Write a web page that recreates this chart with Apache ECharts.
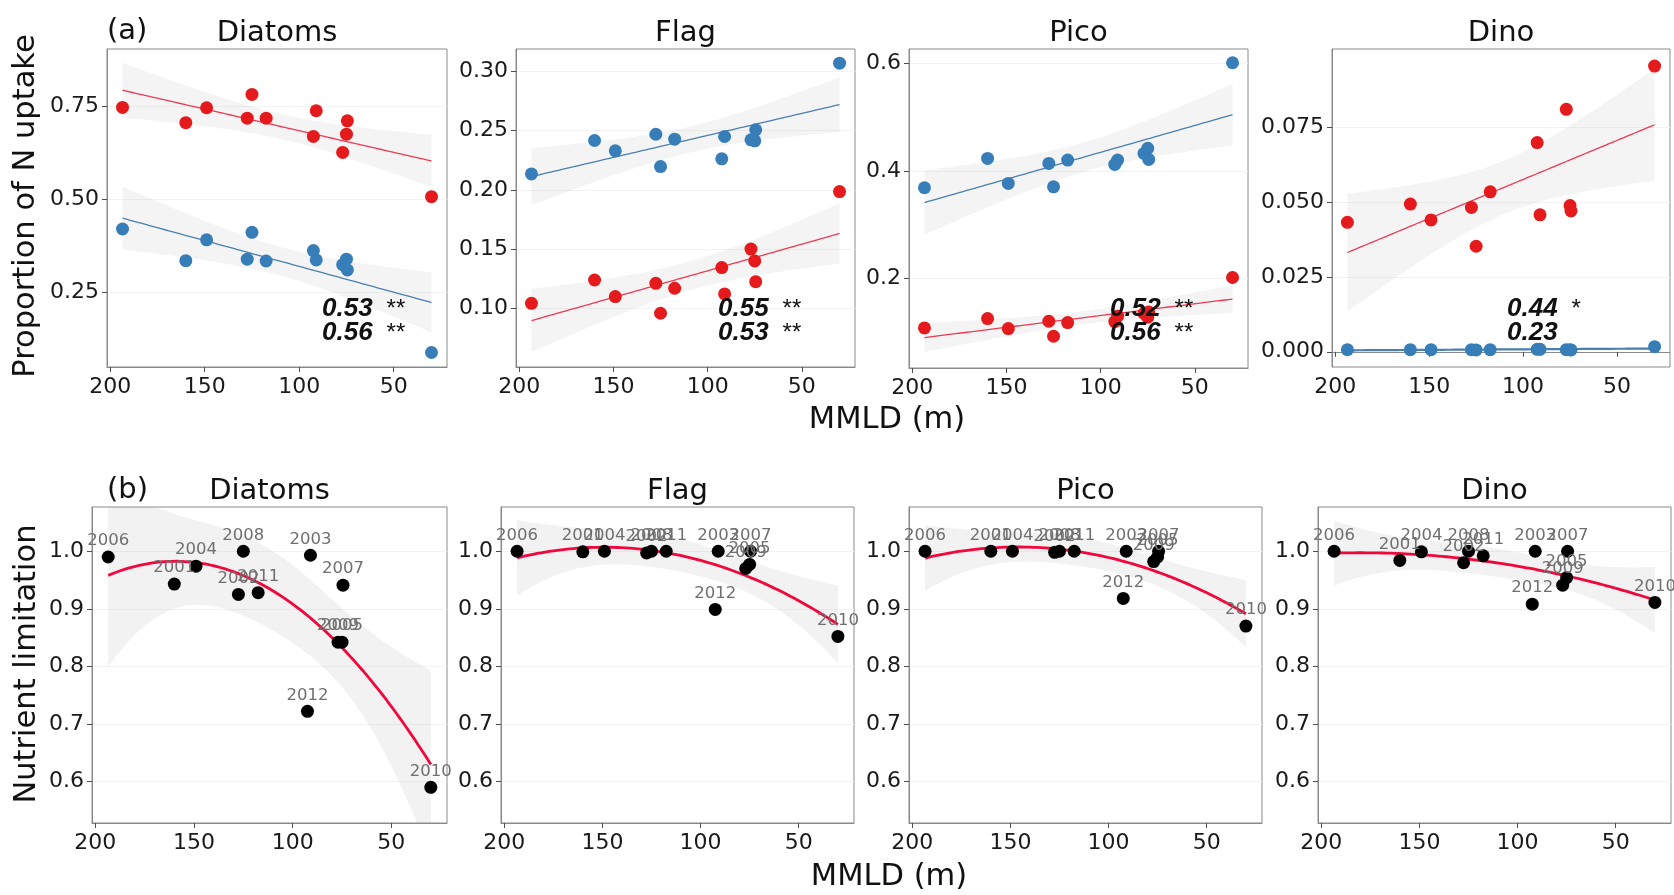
<!DOCTYPE html>
<html><head><meta charset="utf-8">
<script src="https://cdn.jsdelivr.net/npm/echarts@6/dist/echarts.min.js"></script>
<style>html,body{margin:0;padding:0;background:#fff}#c{width:1674px;height:895px}</style>
</head><body><div id="c"></div>
<script>
// ---------------- data ----------------
const years = [2006, 2001, 2004, 2002, 2008, 2011, 2012, 2003, 2009, 2005, 2007, 2010];
const mmld  = [193.5, 160, 149, 127.5, 125, 117.5, 92.5, 91, 77, 75, 74.5, 30];
const groups = ['Diatoms', 'Flag', 'Pico', 'Dino'];

// (a) proportion of N uptake (red and blue series)
const diatomsRed  = [0.746, 0.705, 0.745, 0.717, 0.781, 0.717, 0.668, 0.737, 0.625, 0.674, 0.710, 0.506];
const diatomsBlue = [0.419, 0.334, 0.390, 0.338, 0.410, 0.333, 0.361, 0.336, 0.323, 0.338, 0.309, 0.087];
const flagRed     = [0.1042, 0.1239, 0.1099, 0.1211, 0.0958, 0.1169, 0.1344, 0.1121, 0.150, 0.140, 0.1225, 0.1986];
const flagBlue    = [0.2135, 0.2417, 0.233, 0.247, 0.2197, 0.2428, 0.2262, 0.2451, 0.2423, 0.2414, 0.2507, 0.307];
const picoRed     = [0.1082, 0.1256, 0.107, 0.1206, 0.0927, 0.1182, 0.120, 0.130, 0.135, 0.128, 0.138, 0.2019];
const picoBlue    = [0.3687, 0.4233, 0.3767, 0.414, 0.3705, 0.4202, 0.4121, 0.4202, 0.4326, 0.4419, 0.4214, 0.601];
const dinoRed     = [0.0433, 0.0494, 0.0441, 0.0483, 0.0353, 0.0535, 0.0700, 0.0458, 0.0811, 0.0489, 0.0471, 0.0956];
const dinoBlue    = [0.0007, 0.0007, 0.0007, 0.0007, 0.0006, 0.0007, 0.0008, 0.0008, 0.0007, 0.0007, 0.0006, 0.0017];

// (b) nutrient limitation
const diatomsLim = [0.990, 0.943, 0.974, 0.925, 1.000, 0.928, 0.722, 0.993, 0.842, 0.842, 0.941, 0.590];
const flagLim    = [1.000, 0.999, 1.000, 0.997, 1.000, 1.000, 0.899, 1.000, 0.970, 0.977, 1.000, 0.852];
const picoLim    = [1.000, 1.000, 1.000, 0.998, 1.000, 1.000, 0.918, 1.000, 0.982, 0.990, 1.000, 0.870];
const dinoLim    = [1.000, 0.984, 0.999, 0.980, 1.000, 0.992, 0.908, 1.000, 0.941, 0.954, 1.000, 0.911];

// R² annotations (number, significance)
const r2Red  = [['0.53', '**'], ['0.55', '**'], ['0.52', '**'], ['0.44', '*']];
const r2Blue = [['0.56', '**'], ['0.53', '**'], ['0.56', '**'], ['0.23', '']];

// tick labels
const xTicks = [50, 100, 150, 200];
const yTicksA = [[0.25, 0.50, 0.75], [0.10, 0.15, 0.20, 0.25, 0.30], [0.2, 0.4, 0.6], [0.000, 0.025, 0.050, 0.075]];
const yDecA = [2, 2, 1, 3];
const yTicksB = [0.6, 0.7, 0.8, 0.9, 1.0];

// ---------------- layout / style ----------------
const FONT = 'DejaVu Sans';
const RED = '#e41a1c', BLUE = '#377eb8';
const gridsA = [[107, 49, 340, 318], [516, 49, 339, 318], [909, 49, 339, 319], [1332, 49, 338, 318]];
const gridsB = [[92, 507, 355, 316], [501, 507, 353, 316], [909, 507, 353, 316], [1318, 507, 353, 316]];
const yRangeA = [[0.048, 0.903], [0.0504, 0.319], [0.0337, 0.6266], [-0.0051, 0.1013]];
const yRangeB = [0.528, 1.0768];
const xRange = [21.8, 201.7];
const annLeft = [322, 718, 1110, 1507];

const redA = [diatomsRed, flagRed, picoRed, dinoRed];
const blueA = [diatomsBlue, flagBlue, picoBlue, dinoBlue];
const limB = [diatomsLim, flagLim, picoLim, dinoLim];

// ---------------- fitting (lm with polynomial, 95% CI) ----------------
function invert(M) {
  const n = M.length;
  const A = M.map((r, i) => r.concat(Array.from({length: n}, (_, j) => (i === j ? 1 : 0))));
  for (let c = 0; c < n; c++) {
    let piv = c;
    for (let r = c + 1; r < n; r++) if (Math.abs(A[r][c]) > Math.abs(A[piv][c])) piv = r;
    [A[c], A[piv]] = [A[piv], A[c]];
    const d = A[c][c];
    for (let j = 0; j < 2 * n; j++) A[c][j] /= d;
    for (let r = 0; r < n; r++) if (r !== c) {
      const f = A[r][c];
      for (let j = 0; j < 2 * n; j++) A[r][j] -= f * A[c][j];
    }
  }
  return A.map(r => r.slice(n));
}
function fitBand(xs, ys, deg) {
  const n = xs.length, p = deg + 1;
  const mx = xs.reduce((a, b) => a + b, 0) / n;
  const row = x => { const u = (x - mx) / 100; const r = []; for (let k = 0; k < p; k++) r.push(Math.pow(u, k)); return r; };
  const XtX = Array.from({length: p}, () => Array(p).fill(0)), Xty = Array(p).fill(0);
  xs.forEach((x, i) => { const r = row(x); for (let a = 0; a < p; a++) { Xty[a] += r[a] * ys[i]; for (let b = 0; b < p; b++) XtX[a][b] += r[a] * r[b]; } });
  const inv = invert(XtX);
  const beta = inv.map(rw => rw.reduce((s, v, j) => s + v * Xty[j], 0));
  const pred = r => r.reduce((s, v, j) => s + v * beta[j], 0);
  let sse = 0; xs.forEach((x, i) => { sse += Math.pow(ys[i] - pred(row(x)), 2); });
  const s2 = sse / (n - p);
  const tq = {9: 2.262, 10: 2.228}[n - p];
  const lo = Math.min(...xs), hi = Math.max(...xs);
  const out = [];
  const N = 80;
  for (let k = 0; k <= N; k++) {
    const x = lo + (hi - lo) * k / N;
    const r = row(x);
    const f = pred(r);
    let q = 0; for (let a = 0; a < p; a++) for (let b = 0; b < p; b++) q += r[a] * inv[a][b] * r[b];
    const se = Math.sqrt(s2 * q);
    out.push([x, f, f - tq * se, f + tq * se]);
  }
  return out;
}

// ---------------- option building ----------------
const grid = [], xAxis = [], yAxis = [], series = [], graphic = [];
const tickStyle = {show: true, length: 5, lineStyle: {color: '#4d4d4d', width: 1}};
const labStyle = {fontSize: 22, color: '#1a1a1a', fontFamily: FONT};

function addGrid(g, yr, yt, dec) {
  const gi = grid.length;
  grid.push({left: g[0], top: g[1], width: g[2], height: g[3], show: true, borderColor: '#8a8a8a', borderWidth: 1, backgroundColor: '#fff'});
  xAxis.push({type: 'value', gridIndex: gi, inverse: true, min: xRange[0], max: xRange[1],
    axisLine: {show: true, lineStyle: {color: '#8a8a8a'}},
    axisTick: Object.assign({customValues: xTicks}, tickStyle),
    axisLabel: Object.assign({customValues: xTicks, margin: 9}, labStyle),
    splitLine: {show: false}});
  yAxis.push({type: 'value', gridIndex: gi, min: yr[0], max: yr[1],
    axisLine: {show: true, lineStyle: {color: '#8a8a8a'}},
    axisTick: Object.assign({customValues: yt}, tickStyle),
    axisLabel: Object.assign({customValues: yt, margin: 8, formatter: v => Number(v).toFixed(dec)}, labStyle),
    splitLine: {show: true, lineStyle: {color: '#f3f3f3', width: 1}}});
  return gi;
}
function bandSeries(gi, pts, alpha) {
  return {type: 'custom', xAxisIndex: gi, yAxisIndex: gi, silent: true, clip: true, z: 1,
    data: [[pts[0][0], pts[0][1]]],
    renderItem: (params, api) => {
      const up = pts.map(p => api.coord([p[0], p[3]]));
      const lo = pts.map(p => api.coord([p[0], p[2]])).reverse();
      return {type: 'polygon', shape: {points: up.concat(lo)}, style: {fill: 'rgba(150,150,150,' + alpha + ')'}};
    }};
}
function lineSeries(gi, pts, color, width) {
  return {type: 'line', xAxisIndex: gi, yAxisIndex: gi, silent: true, z: 2, showSymbol: false, symbol: 'none',
    data: pts.map(p => [p[0], p[1]]), lineStyle: {color: color, width: width}};
}

// Panel (a)
groups.forEach((name, k) => {
  const gi = addGrid(gridsA[k], yRangeA[k], yTicksA[k], yDecA[k]);
  const bRed = fitBand(mmld, redA[k], 1), bBlue = fitBand(mmld, blueA[k], 1);
  series.push(bandSeries(gi, bRed, 0.1), bandSeries(gi, bBlue, 0.1));
  series.push(lineSeries(gi, bRed, '#ec3a55', 1.3), lineSeries(gi, bBlue, '#4a7fb0', k === 3 ? 2.2 : 1.3));
  series.push({type: 'scatter', xAxisIndex: gi, yAxisIndex: gi, z: 3, symbolSize: 13,
    data: mmld.map((x, i) => [x, redA[k][i]]), itemStyle: {color: RED, opacity: 1}});
  series.push({type: 'scatter', xAxisIndex: gi, yAxisIndex: gi, z: 3, symbolSize: 13,
    data: mmld.map((x, i) => [x, blueA[k][i]]), itemStyle: {color: BLUE, opacity: 1}});
  const g = gridsA[k];
  graphic.push({type: 'text', x: g[0] + g[2] / 2, y: 33, style: {text: name, font: '29px "DejaVu Sans"', fill: '#111', align: 'center', verticalAlign: 'middle'}, z: 10});
  [[r2Red[k], 309], [r2Blue[k], 333]].forEach(([t, y]) => {
    graphic.push({type: 'text', x: annLeft[k], y: y, z: 10, style: {
      text: '{n|' + t[0] + '}' + (t[1] ? '{s|' + t[1] + '}' : ''),
      verticalAlign: 'middle', align: 'left',
      rich: {n: {font: 'italic bold 26px "Liberation Sans"', fill: '#111'},
             s: {font: '24px "Liberation Sans"', fill: '#111', padding: [0, 0, 0, 14]}}}});
  });
});

// Panel (b)
groups.forEach((name, k) => {
  const gi = addGrid(gridsB[k], yRangeB, yTicksB, 1);
  const b = fitBand(mmld, limB[k], 2);
  series.push(bandSeries(gi, b, 0.12));
  series.push(lineSeries(gi, b, '#f2073c', 2.8));
  series.push({type: 'scatter', xAxisIndex: gi, yAxisIndex: gi, z: 3, symbolSize: 13,
    data: mmld.map((x, i) => [x, limB[k][i]]), itemStyle: {color: '#000', opacity: 1},
    label: {show: true, position: 'top', distance: 1, formatter: p => String(years[p.dataIndex]),
      color: '#6f6f6f', fontSize: 16.5, fontFamily: FONT}});
  const g = gridsB[k];
  graphic.push({type: 'text', x: g[0] + g[2] / 2, y: 491, style: {text: name, font: '29px "DejaVu Sans"', fill: '#111', align: 'center', verticalAlign: 'middle'}, z: 10});
});

// Fixed titles
const txt = (s, x, y, size, rot, align) => ({type: 'text', x: x, y: y, rotation: rot || 0, z: 10,
  style: {text: s, font: size + 'px "DejaVu Sans"', fill: '#111', align: align || 'center', verticalAlign: 'middle'}});
graphic.push(txt('(a)', 107, 31, 29, 0, 'left'));
graphic.push(txt('(b)', 107, 490, 29, 0, 'left'));
graphic.push(txt('Proportion of N uptake', 26, 206, 30.5, Math.PI / 2));
graphic.push(txt('Nutrient limitation', 27, 664, 30.5, Math.PI / 2));
graphic.push(txt('MMLD (m)', 887, 420, 30.5));
graphic.push(txt('MMLD (m)', 889, 877, 30.5));

const chart = echarts.init(document.getElementById('c'), null, {renderer: 'canvas'});
chart.setOption({animation: false, backgroundColor: '#fff', grid, xAxis, yAxis, series, graphic});
</script>
</body></html>
